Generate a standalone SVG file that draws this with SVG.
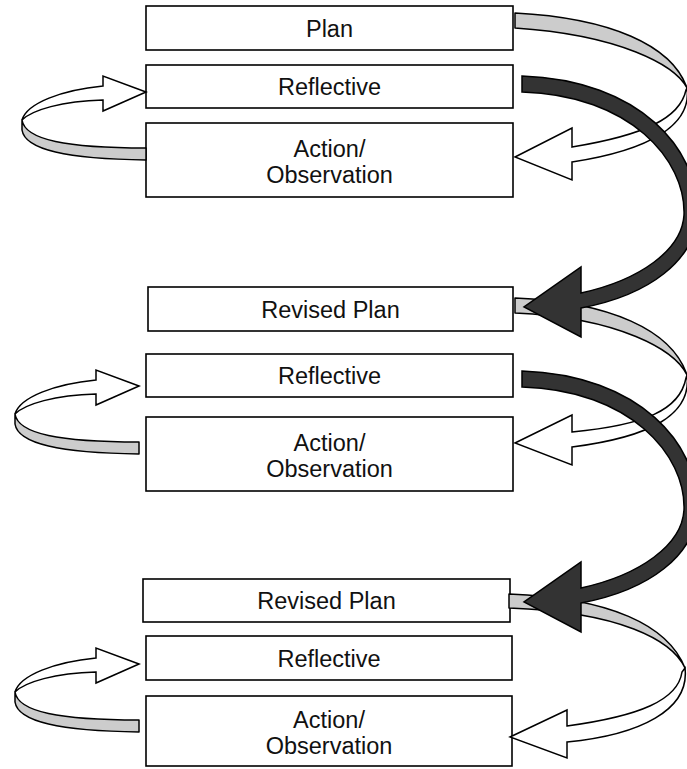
<svg xmlns="http://www.w3.org/2000/svg" xmlns:xlink="http://www.w3.org/1999/xlink" width="687" height="769" viewBox="0 0 687 769">
<style>
.box{fill:#fff;stroke:#000;stroke-width:1.6}
.lbl{font-family:"Liberation Sans",Arial,sans-serif;font-size:23.5px;fill:#111;text-anchor:middle}
.gray{fill:#ccc;stroke:#000;stroke-width:1.5;stroke-linejoin:round}
.white{fill:#fff;stroke:#000;stroke-width:1.5;stroke-linejoin:miter}
.dark{fill:#333;stroke:#000;stroke-width:1.5;stroke-linejoin:miter}
</style>
<defs>
<g id="leftLoop">
<path class="gray" d="M 15,692 C 18,712 60,720 139,720 L 139,732 C 60,731 18,722 15,702 Z"/>
<path class="white" d="M 139,664 L 96,648 L 96,658 C 55,662 20,675 15,692 C 25,682 55,673 96,672 L 96,683 Z"/>
</g>
<path id="darkArrow" class="dark" d="M 522,76 C 640,80 700,150 697,215 C 695,260 650,295 581,308 L 581,337 L 524,307 L 581,267 L 581,293 C 640,280 682,250 684,215 C 686,160 630,95 522,92 Z"/>
</defs>

<g id="nodes">
<g id="plan1"><rect class="box" x="146" y="6" width="367" height="44"/><text class="lbl" x="329.5" y="36.5">Plan</text></g>
<g id="reflective1"><rect class="box" x="146" y="65" width="367" height="43"/><text class="lbl" x="329.5" y="95">Reflective</text></g>
<g id="action1"><rect class="box" x="146" y="123" width="367" height="74"/><text class="lbl" x="329.5" y="157">Action/</text><text class="lbl" x="329.5" y="183">Observation</text></g>

<g id="revisedPlan2"><rect class="box" x="148" y="287" width="365" height="44"/><text class="lbl" x="330.5" y="317.5">Revised Plan</text></g>
<g id="reflective2"><rect class="box" x="146" y="354" width="367" height="43"/><text class="lbl" x="329.5" y="384">Reflective</text></g>
<g id="action2"><rect class="box" x="146" y="417" width="367" height="74"/><text class="lbl" x="329.5" y="451">Action/</text><text class="lbl" x="329.5" y="477">Observation</text></g>

<g id="revisedPlan3"><rect class="box" x="143" y="579" width="367" height="43"/><text class="lbl" x="326.5" y="609">Revised Plan</text></g>
<g id="reflective3"><rect class="box" x="146" y="636" width="366" height="44"/><text class="lbl" x="329" y="666.5">Reflective</text></g>
<g id="action3"><rect class="box" x="146" y="696" width="366" height="70"/><text class="lbl" x="329" y="728">Action/</text><text class="lbl" x="329" y="754">Observation</text></g>
</g>

<g id="connectors">
<!-- left loops: Action -> Reflective -->
<use xlink:href="#leftLoop" href="#leftLoop" transform="translate(7,-572)"/>
<use xlink:href="#leftLoop" href="#leftLoop" transform="translate(0,-278)"/>
<use xlink:href="#leftLoop" href="#leftLoop"/>
<!-- right loops: Plan -> Action -->
<path class="gray" d="M 515,13 C 610,18 672,45 687,88 C 675,65 620,35 515,28 Z"/>
<path class="white" d="M 687,88 C 692,125 650,150 572,162 L 572,180 L 515,157 L 572,128 L 572,147 C 645,135 680,118 686,90 Z"/>
<path class="gray" d="M 515,298 C 610,302 672,330 687,375 C 675,350 620,318 515,313 Z"/>
<path class="white" d="M 687,375 C 692,415 650,437 572,447 L 572,465 L 515,443 L 572,415 L 572,432 C 645,425 680,410 686,378 Z"/>
<path class="gray" d="M 509,594 C 610,598 668,625 685,668 C 672,640 620,612 509,608 Z"/>
<path class="white" d="M 685,668 C 690,710 640,735 567,742 L 567,758 L 510,737 L 567,710 L 567,726 C 640,716 678,700 682,672 Z"/>
<!-- dark arrows: Reflective -> Revised Plan -->
<use xlink:href="#darkArrow" href="#darkArrow"/>
<use xlink:href="#darkArrow" href="#darkArrow" transform="translate(0,295)"/>
</g>
</svg>
